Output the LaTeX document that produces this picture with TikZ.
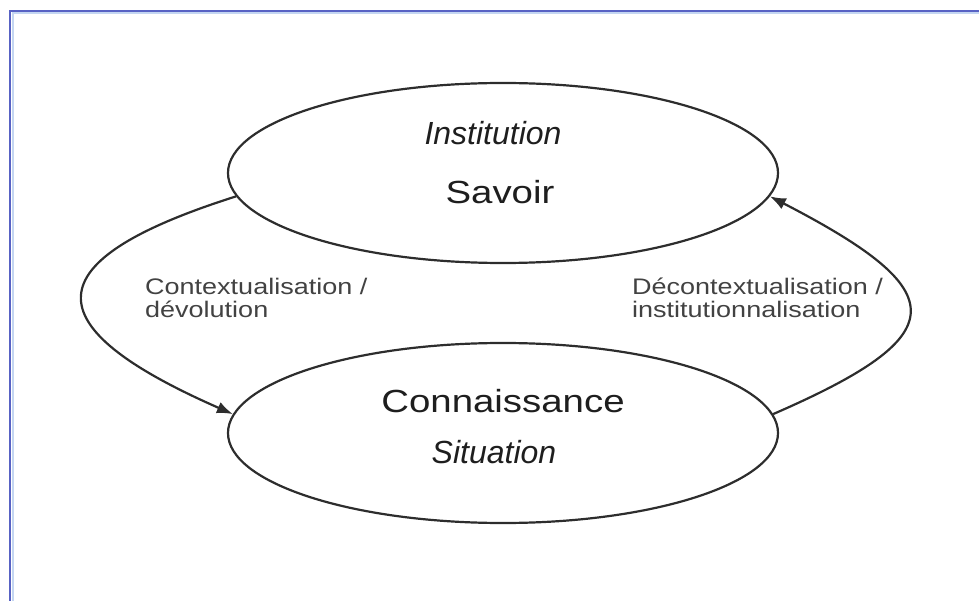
\documentclass[tikz,border=0pt]{standalone}
\usepackage{fontspec}
\setmainfont{Liberation Sans}
\newfontfamily\widefont[FakeStretch=1.2]{Liberation Sans}
\usetikzlibrary{shapes.geometric,arrows.meta}
\definecolor{cadre}{RGB}{88,98,196}
\definecolor{halo}{RGB}{196,214,242}
\definecolor{trait}{RGB}{45,45,45}
\definecolor{encre}{RGB}{30,30,30}
\definecolor{gris}{RGB}{66,66,66}
\tikzset{
  bulle/.style={draw=trait, line width=2.2pt, ellipse, inner sep=0pt,
                minimum width=550pt, minimum height=180pt},
  titre/.style={text=encre, font=\widefont\fontsize{32}{36}\selectfont, inner sep=0pt},
  lieu/.style={text=encre, font=\itshape\fontsize{32}{36}\selectfont, inner sep=0pt},
  passage/.style={text=gris, align=left, inner sep=0pt,
                  font=\widefont\fontsize{22.5}{24}\selectfont},
  fleche/.style={draw=trait, line width=2.2pt, -{Latex[length=16pt,width=12pt]}}
}

\begin{document}
\begin{tikzpicture}[x=1pt, y=-1pt]
			%%%%% START %%%%%
			
			\useasboundingbox (0, 0) rectangle (979, 601);
			\clip (0, 0) rectangle (979, 601);
			
			\draw[halo, line width=2pt] (12.5, 620) -- (12.5, 13.5) -- (990, 13.5);
			\draw[cadre, line width=2.5pt] (10, 620) -- (10, 11) -- (990, 11);
			
			\node[bulle] (savoir) at (503, 173) {};
			\node[bulle] (connaissance) at (503, 433) {};
			
			\node[lieu] (institution) at (493, 133) {Institution};
			\node[titre] (savoirtxt) at (500, 192) {Savoir};
			\node[titre] (connaissancetxt) at (503, 401) {Connaissance};
			\node[lieu] (situation) at (494, 452) {Situation};
			
			\draw[fleche] (savoir.185) .. controls (32, 261) and (32, 326) .. (connaissance.176);
			\draw[fleche] (connaissance.4) .. controls (955, 335) and (955, 292) .. (savoir.355);
			
			\node[passage, anchor=base west] (devolution) at (145, 318) {Contextualisation /\\d\'evolution};
			\node[passage, anchor=base west] (institutionnalisation) at (632, 318) {D\'econtextualisation /\\institutionnalisation};
			
			%%%%% END %%%%%
\end{tikzpicture}
\end{document}
